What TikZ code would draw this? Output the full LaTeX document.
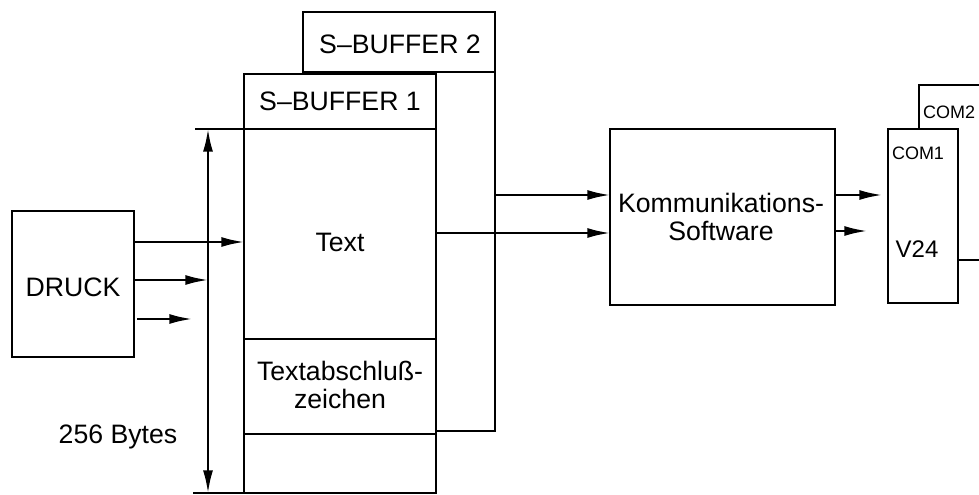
\documentclass[tikz,border=0pt]{standalone}
\usepackage{fontspec}
\setmainfont{Liberation Sans}
\usetikzlibrary{arrows.meta}
\begin{document}
\begin{tikzpicture}[x=0.75pt,y=-0.75pt,
  line width=1.6pt,
  box/.style={draw,fill=white,inner sep=0pt,outer sep=0pt},
  lbl/.style={inner sep=0pt,align=center,font=\fontsize{20}{21.5}\selectfont},
  small/.style={inner sep=0pt,font=\fontsize{13.5}{15}\selectfont},
  arr/.style={-{Latex[length=17pt,width=7.5pt]}},
  dim/.style={{Latex[length=17pt,width=7.5pt]}-{Latex[length=17pt,width=7.5pt]}}]
\clip (0,0) rectangle (979,495);
% S-BUFFER 2 (behind)
\node[box,minimum width=144pt,minimum height=314.25pt] (s2) at (399,221.5) {};
\draw (303,72) -- (495,72);
\node[lbl] (s2t) at (400,44) {S–BUFFER 2};
% S-BUFFER 1
\node[box,minimum width=144pt,minimum height=314.25pt] (s1) at (340,283.5) {};
\coordinate (dimT) at (208,129);
\coordinate (dimB) at (208,493);
\draw (195,129) -- (s1.east |- dimT);
\draw (s1.west |- 0,339) -- (s1.east |- 0,339);
\draw (s1.west |- 0,434) -- (s1.east |- 0,434);
\draw (193,493) -- (s1.south east);
\node[lbl] (s1t) at (340,101) {S–BUFFER 1};
\node[lbl] (txt) at (340,242) {Text};
\node[lbl] (tab) at (340,385) {Textabschluß-\\zeichen};
% DRUCK
\node[box,minimum width=91.5pt,minimum height=109.5pt] (druck) at (73,284) {};
\node[lbl] (druckt) at (73,287) {DRUCK};
% dimension
\draw[dim] (dimB) -- (dimT);
\node[lbl] (bytes) at (118,437) {256 Bytes};
% Kommunikations-Software
\node[box,minimum width=168.75pt,minimum height=132pt] (komm) at (722.5,217) {};
\node[lbl] (kommt) at (721,217) {Kommunikations-\\Software};
% COM boxes
\node[box,minimum width=52.5pt,minimum height=131.25pt] (com2) at (954,172.5) {};
\node[small,anchor=west] (com2t) at (922,112) {COM2};
\node[box,minimum width=52.5pt,minimum height=130.5pt] (com1) at (923,216) {};
\node[small] (com1t) at (918,153) {COM1};
\node[inner sep=0pt,font=\fontsize{18}{20}\selectfont] (v24) at (917,249) {V24};
% arrows from DRUCK
\draw[arr] (druck.east |- 0,242) -- (s1.west |- 0,242);
\draw[arr] (druck.east |- 0,280) -- (dimT |- 0,280);
\coordinate (a3e) at (192,319);
\draw[arr] ([xshift=2.25pt]druck.east |- 0,319) -- (a3e);
% arrows to Kommunikations-Software
\draw[arr] (s2.east |- 0,195) -- (komm.west |- 0,195);
\draw[arr] (s1.east |- 0,233) -- (komm.west |- 0,233);
% arrows to COM
\coordinate (c1e) at (882,195);
\coordinate (c2e) at (867,231);
\draw[arr] (komm.east |- c1e) -- (c1e);
\draw[arr] (komm.east |- c2e) -- (c2e);
\end{tikzpicture}
\end{document}
